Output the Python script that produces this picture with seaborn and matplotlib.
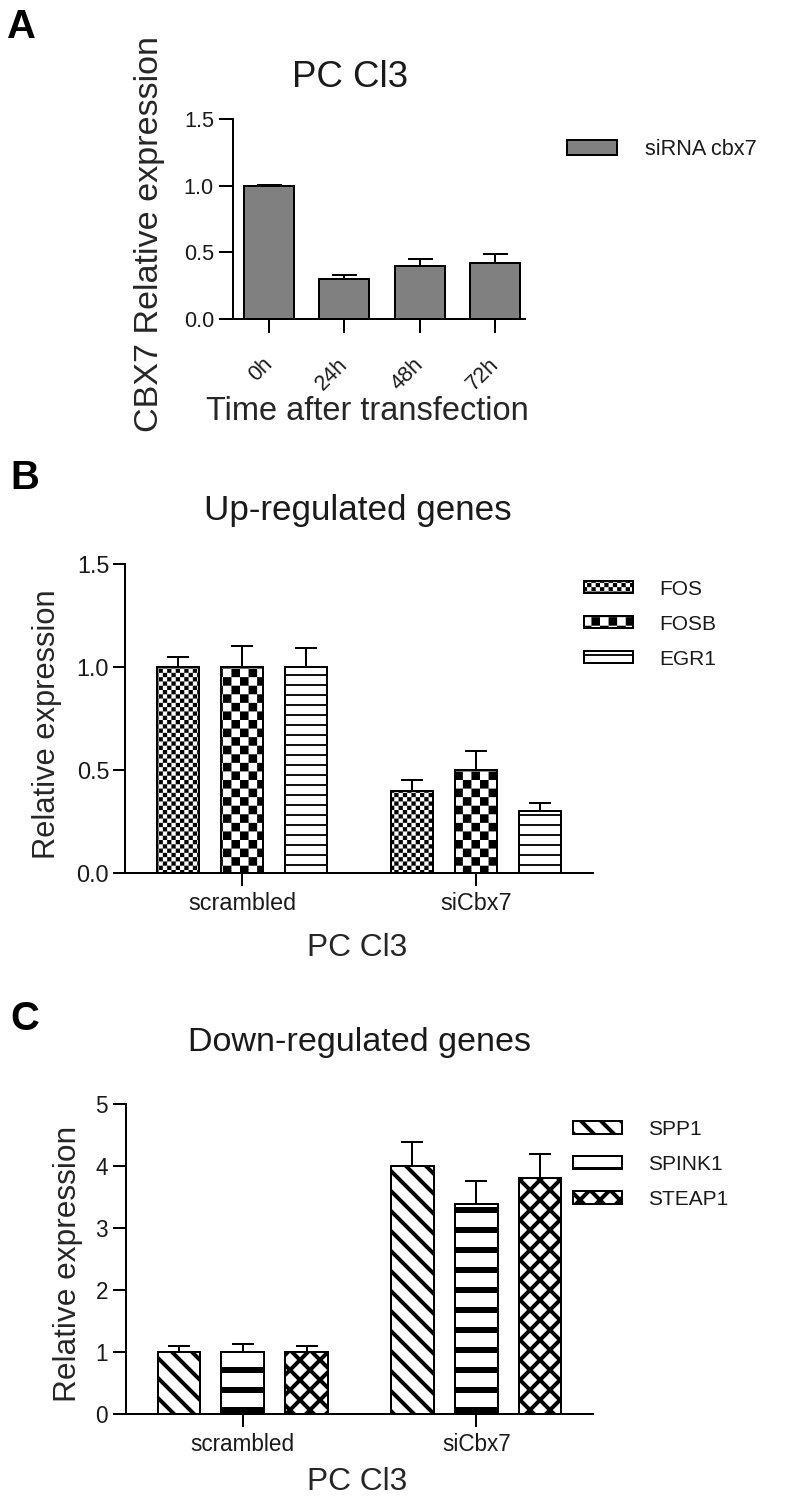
import warnings
import numpy as np
import pandas as pd
import matplotlib
matplotlib.use('Agg')
import matplotlib.pyplot as plt
import matplotlib.hatch as mhatch
import matplotlib.patches as mpatches
from matplotlib.path import Path
from matplotlib.ticker import FormatStrFormatter
from matplotlib.transforms import ScaledTranslation
import seaborn as sns

warnings.filterwarnings('ignore')

# A: CBX7 after siRNA transfection
times = ['0h', '24h', '48h', '72h']
cbx7 = [1.00, 0.30, 0.40, 0.42]
cbx7_err = [0.005, 0.03, 0.05, 0.07]

# B and C share the two groups
groups = ['scrambled', 'siCbx7']

up_genes = ['FOS', 'FOSB', 'EGR1']
fos = [1.00, 0.40]
fos_err = [0.05, 0.05]
fosb = [1.00, 0.50]
fosb_err = [0.10, 0.09]
egr1 = [1.00, 0.30]
egr1_err = [0.09, 0.04]

down_genes = ['SPP1', 'SPINK1', 'STEAP1']
spp1 = [1.00, 4.00]
spp1_err = [0.10, 0.39]
spink1 = [1.00, 3.39]
spink1_err = [0.13, 0.37]
steap1 = [1.00, 3.80]
steap1_err = [0.10, 0.39]

frac_ticks = [0.0, 0.5, 1.0, 1.5]
int_ticks = [0, 1, 2, 3, 4, 5]


class CheckerHatch(mhatch.HatchPatternBase):
    # 'c' in a hatch string -> filled checkerboard, 2 cells per 'c' per hatch unit
    def __init__(self, hatch, density):
        self.cells = 2 * hatch.count('c')
        self.num_vertices = 5 * (self.cells * self.cells // 2)

    def set_vertices_and_codes(self, vertices, codes):
        s = 1.0 / self.cells
        k = 0
        for i in range(self.cells):
            for j in range(self.cells):
                if (i + j) % 2:
                    continue
                x0, y0 = i * s, j * s
                vertices[k:k + 5] = [(x0, y0), (x0 + s, y0), (x0 + s, y0 + s),
                                     (x0, y0 + s), (x0, y0)]
                codes[k:k + 5] = [Path.MOVETO, Path.LINETO, Path.LINETO,
                                  Path.LINETO, Path.CLOSEPOLY]
                k += 5


mhatch._hatch_types.append(CheckerHatch)

W, H, DPI = 792, 1506, 120
INK = '#1a1a1a'

sns.set_style('ticks')
plt.rcParams['font.family'] = ['Liberation Sans', 'DejaVu Sans']
plt.rcParams['hatch.color'] = 'black'
plt.rcParams['hatch.linewidth'] = 1.0
plt.rcParams['text.color'] = INK

fig = plt.figure(figsize=(W / DPI, H / DPI), dpi=DPI)


def add_axes_px(left, top, right, bottom):
    return fig.add_axes([left / W, 1 - bottom / H, (right - left) / W, (bottom - top) / H])


def px_to_axes(ax, x, y):
    return ax.transAxes.inverted().transform((x, H - y))


def set_hatch_lw(patch, lw):
    if hasattr(patch, 'set_hatch_linewidth'):
        patch.set_hatch_linewidth(lw)


def add_errorbars(ax, bars, err, capsize):
    xs = [p.get_x() + p.get_width() / 2 for p in bars]
    ys = [p.get_height() for p in bars]
    ax.errorbar(xs, ys, yerr=[np.zeros(len(err)), err], fmt='none', ecolor='black',
                elinewidth=1.2, capsize=capsize, capthick=1.2, zorder=3)


def finish_axes(ax, ylim, ticks, fmt, ticksize, ticklen, ypad, xpad):
    sns.despine(ax=ax)
    ax.set_ylim(*ylim)
    ax.set_yticks(ticks)
    ax.yaxis.set_major_formatter(FormatStrFormatter(fmt))
    for side in ['left', 'bottom']:
        ax.spines[side].set_linewidth(1.2)
        ax.spines[side].set_color('black')
    ax.tick_params(length=ticklen, width=1.2, labelsize=ticksize, color='black', labelcolor=INK)
    ax.tick_params(axis='y', pad=ypad)
    ax.tick_params(axis='x', pad=xpad)


def place_labels(ax, title, tpos, tsize, xlabel, xpos, xsize, ylabel, ypos, ysize):
    tx, ty = px_to_axes(ax, *tpos)
    ax.set_title(title, fontsize=tsize, x=tx, y=ty, pad=0, va='baseline')
    ax.set_xlabel(xlabel, fontsize=xsize)
    ax.xaxis.set_label_coords(*px_to_axes(ax, *xpos))
    ax.xaxis.label.set_va('baseline')
    ax.set_ylabel(ylabel, fontsize=ysize)
    ax.yaxis.set_label_coords(*px_to_axes(ax, *ypos))
    ax.yaxis.label.set_va('baseline')


def add_legend(ax, labels, face, hatches, hatch_lws, x, top, fs, hl, hh, pad, ls):
    handles = [mpatches.Patch(facecolor=face, edgecolor='black', hatch=h, linewidth=1.2, label=lab)
               for lab, h in zip(labels, hatches)]
    leg = ax.legend(handles=handles, loc='upper left', bbox_to_anchor=(x / W, 1 - top / H),
                    bbox_transform=fig.transFigure, frameon=False, fontsize=fs,
                    handlelength=hl, handleheight=hh, handletextpad=pad, labelspacing=ls,
                    borderpad=0, borderaxespad=0)
    for p, lw in zip(leg.get_patches(), hatch_lws):
        set_hatch_lw(p, lw)


def grouped_bars(ax, genes, series, errors, hatches, hatch_lws):
    df = pd.DataFrame({'group': groups * len(genes),
                       'gene': np.repeat(genes, len(groups)),
                       'expr': np.concatenate(series)})
    sns.barplot(data=df, x='group', y='expr', hue='gene', palette=['white'] * len(genes),
                saturation=1, edgecolor='black', linewidth=1.2, width=0.82, gap=0.33,
                errorbar=None, legend=False, ax=ax)
    for bars, h, lw, err in zip(ax.containers, hatches, hatch_lws, errors):
        for p in bars:
            p.set_hatch(h)
            set_hatch_lw(p, lw)
        add_errorbars(ax, bars, err, 6.6)
    ax.set_xlim(-0.5, 1.5)


# ---- A ----
axA = add_axes_px(233, 119, 525, 319)
sns.barplot(x=times, y=cbx7, color='#808080', saturation=1, edgecolor='black',
            linewidth=1.2, width=0.664, errorbar=None, ax=axA)
add_errorbars(axA, axA.containers[0], cbx7_err, 7.5)
axA.set_xlim(-0.48, 3.4)
finish_axes(axA, (0, 1.5), frac_ticks, '%.1f', 13, 8.4, 3, 12.6)
plt.setp(axA.get_xticklabels(), rotation=45, ha='right', rotation_mode='anchor')
shift = ScaledTranslation(-7 / DPI, 0, fig.dpi_scale_trans)
for lab in axA.get_xticklabels():
    lab.set_transform(lab.get_transform() + shift)
place_labels(axA, 'PC Cl3', (350, 87), 22, 'Time after transfection', (367, 420), 19.5,
             'CBX7 Relative expression', (158, 234), 20.5)
add_legend(axA, ['siRNA cbx7'], '#808080', [None], [1.0], 567, 139, 13, 2.31, 0.69, 1.29, 0.77)

# ---- B ----
up_hatches = ['c' * 14, 'c' * 7, '--']
up_hatch_lws = [0.0, 0.0, 1.1]
axB = add_axes_px(125, 564, 593, 873)
grouped_bars(axB, up_genes, [fos, fosb, egr1], [fos_err, fosb_err, egr1_err],
             up_hatches, up_hatch_lws)
finish_axes(axB, (0, 1.5), frac_ticks, '%.1f', 14, 7.5, 2, 3.6)
place_labels(axB, 'Up-regulated genes', (358, 520), 21, 'PC Cl3', (357, 956), 19,
             'Relative expression', (55, 724), 18.5)
add_legend(axB, up_genes, 'white', up_hatches, up_hatch_lws, 584, 579.6, 12.5,
           2.35, 0.53, 1.25, 0.77)

# ---- C ----
down_hatches = ['\\\\', '-', 'xx']
down_hatch_lws = [2.4, 3.6, 2.4]
axC = add_axes_px(126, 1104, 593, 1414)
grouped_bars(axC, down_genes, [spp1, spink1, steap1], [spp1_err, spink1_err, steap1_err],
             down_hatches, down_hatch_lws)
finish_axes(axC, (0, 5), int_ticks, '%d', 13.5, 7.8, 3, 3.6)
place_labels(axC, 'Down-regulated genes', (359, 1051), 20.5, 'PC Cl3', (357, 1490), 19,
             'Relative expression', (76, 1264), 19)
add_legend(axC, down_genes, 'white', down_hatches, down_hatch_lws, 573, 1119.6, 12.5,
           2.35, 0.58, 1.25, 0.78)

# panel letters
for letter, (lx, ly) in zip('ABC', [(7, 38), (10, 489), (10, 1030)]):
    fig.text(lx / W, 1 - ly / H, letter, fontsize=24, fontweight='bold', color='black',
             va='baseline', ha='left')

fig.savefig('out.png', dpi=DPI)
